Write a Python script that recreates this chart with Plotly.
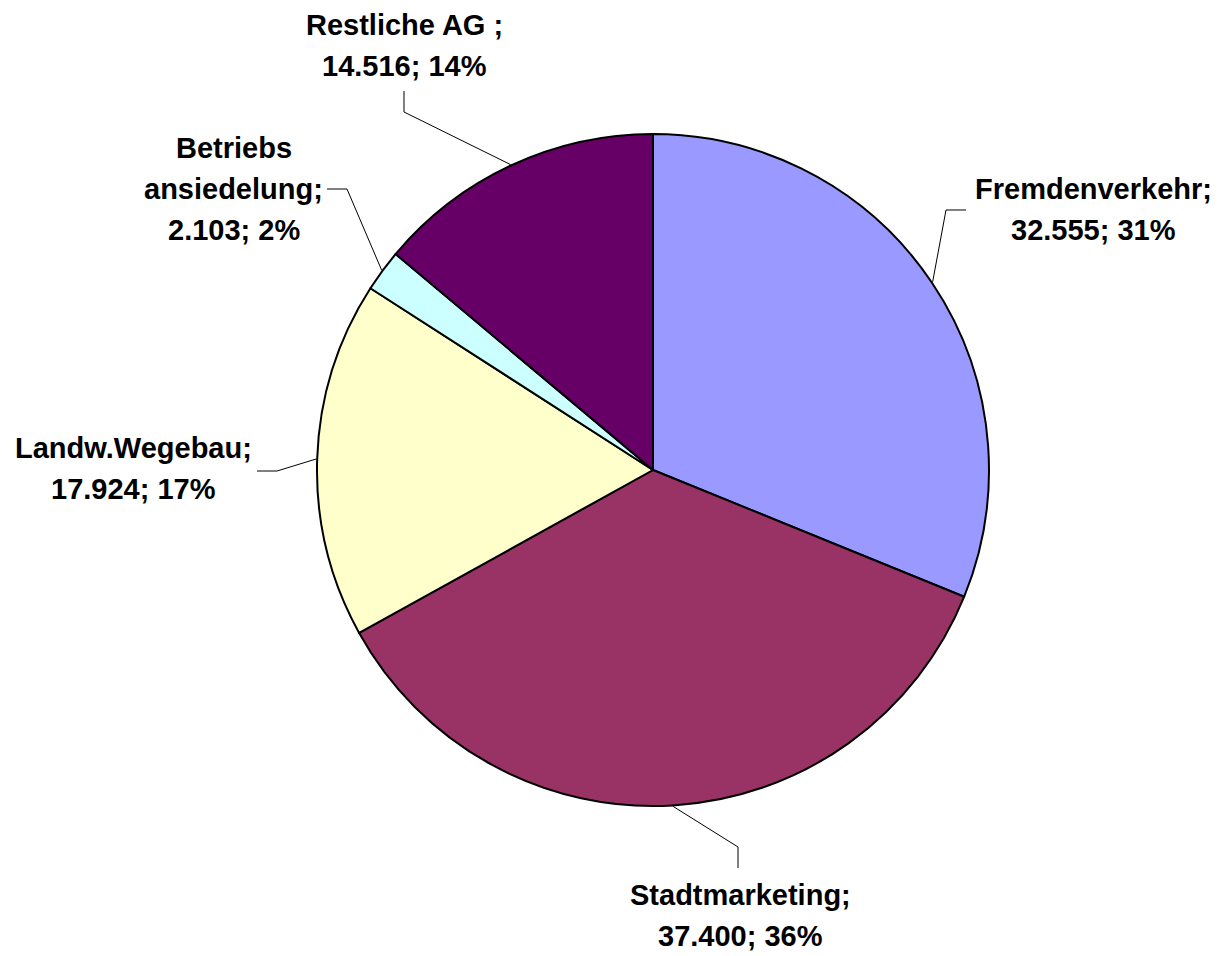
import numpy as np
import plotly.graph_objects as go

# ---------------- data ----------------
categories = ["Fremdenverkehr", "Stadtmarketing", "Landw.Wegebau", "Betriebs ansiedelung", "Restliche AG "]
name_lines = [["Fremdenverkehr;"], ["Stadtmarketing;"], ["Landw.Wegebau;"], ["Betriebs", "ansiedelung;"], ["Restliche AG ;"]]
values = [32555, 37400, 17924, 2103, 14516]
colors = ["#9999FF", "#993366", "#FFFFCC", "#CCFFFF", "#660066"]

# ---------------- layout constants (page pixels) ----------------
OFF = 8                      # default page body margin
W, H = 1225 - OFF, 956 - OFF
CX, CY, R = 653, 470, 336
FONT = dict(family="Liberation Sans, Arial, sans-serif", size=29, color="black")
LINE_GAP = 41

# label block centre (x, first-line y) and leader elbow/end points, per slice
label_pos = [(1093, 189), (740, 895), (133, 448), (234, 148), (404, 25)]
leader_pts = [
    [(946, 210), (966, 210)],
    [(738, 847), (738, 868)],
    [(277, 471), (257, 471)],
    [(347, 189), (327, 189)],
    [(404, 112), (404, 91)],
]

def px(x):
    return (x - OFF) / W

def py(y):
    return 1 - (y - OFF) / H

def fmt_de(v):
    return f"{v:,}".replace(",", ".")

fig = go.Figure(go.Pie(
    labels=categories,
    values=values,
    sort=False,
    direction="clockwise",
    rotation=0,
    marker=dict(colors=colors, line=dict(color="black", width=2)),
    textinfo="none",
    hoverinfo="label+value+percent",
    domain=dict(x=[px(CX - R), px(CX + R)], y=[py(CY + R), py(CY - R)]),
    showlegend=False,
))

total = float(sum(values))
cum = np.cumsum([0] + values[:-1]) / total
mid = (cum + np.array(values) / total / 2) * 2 * np.pi

shapes = []
annotations = []
for i, v in enumerate(values):
    th = mid[i]
    sx = CX + (R + 1) * np.sin(th)
    sy = CY - (R + 1) * np.cos(th)
    pts = [(sx, sy)] + leader_pts[i]
    path = "M " + " L ".join(f"{px(x):.5f},{py(y):.5f}" for x, y in pts)
    shapes.append(dict(type="path", path=path, xref="paper", yref="paper",
                       line=dict(color="black", width=1)))
    pct = round(v / total * 100)
    lines = name_lines[i] + [f"{fmt_de(v)}; {pct}%"]
    lx, ly = label_pos[i]
    for j, t in enumerate(lines):
        annotations.append(dict(
            text=f"<b>{t}</b>", x=px(lx), y=py(ly + j * LINE_GAP),
            xref="paper", yref="paper", xanchor="center", yanchor="middle",
            showarrow=False, font=FONT,
        ))

fig.update_layout(
    width=W, height=H,
    margin=dict(l=0, r=0, t=0, b=0),
    paper_bgcolor="white", plot_bgcolor="white",
    shapes=shapes, annotations=annotations,
)

fig.write_html("out.html")
